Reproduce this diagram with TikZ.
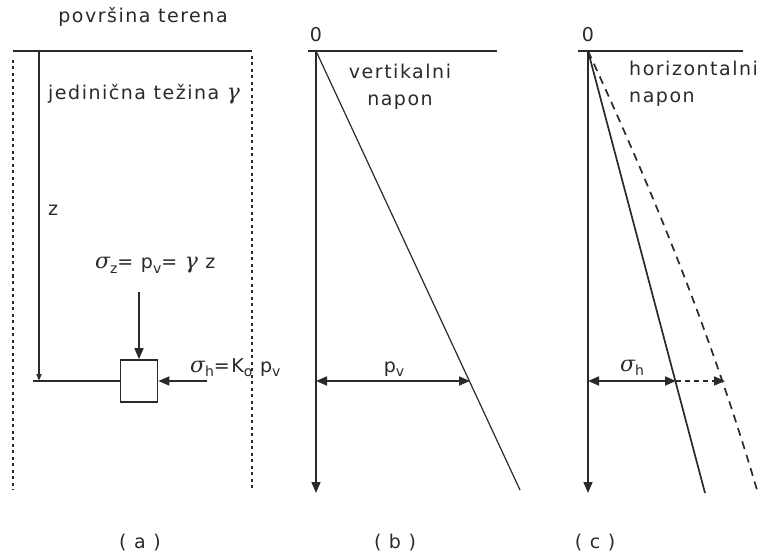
\documentclass[tikz,border=0pt]{standalone}
\usepackage{fontspec}
\setmainfont{DejaVu Sans}[LetterSpace=8]
\newfontfamily\grk{DejaVu Serif}[Scale=1.15]
\newcommand{\grsig}{{\grk\itshape σ}}
\newcommand{\grgam}{{\grk\itshape γ}}
\newcommand{\sbs}[1]{\raisebox{-4.5pt}{\fontsize{14}{14}\selectfont #1}}
\usetikzlibrary{arrows.meta}
\definecolor{ink}{HTML}{2A2A2A}
\begin{document}
\begin{tikzpicture}[x=1pt,y=-1pt,
  lbl/.style={font=\fontsize{19}{27}\selectfont, text=ink, inner sep=0pt},
  ln/.style={draw=ink, line width=1.7pt},
  base/.style={draw=ink, line width=2.3pt},
  thinln/.style={draw=ink, line width=1.2pt},
  dotln/.style={draw=ink, line width=2.2pt, dash pattern=on 3pt off 3.5pt},
  dashln/.style={draw=ink, line width=1.7pt, dash pattern=on 8pt off 6pt},
  tip/.style={-{Triangle[length=11pt,width=9pt]}},
  smalltip/.style={-{Triangle[length=7pt,width=5pt]}},
  both/.style={{Triangle[length=11pt,width=9pt]}-{Triangle[length=11pt,width=9pt]}},
  elem/.style={draw=ink, line width=1.7pt, minimum width=37pt, minimum height=42pt, inner sep=0pt}
]
\useasboundingbox (0,0) rectangle (764,559);

% ---------- panel (a)
\node[lbl] (surf) at (143,17) {površina terena};
\coordinate (aL) at (13,51);
\coordinate (aR) at (252,51);
\draw[base] (aL) -- (aR);
\coordinate (dl1) at (13,60);  \coordinate (dl2) at (13,490);
\coordinate (dr1) at (252,56); \coordinate (dr2) at (252,490);
\draw[dotln] (dl1) -- (dl2);
\draw[dotln] (dr1) -- (dr2);
\coordinate (z0) at (39,51);
\coordinate (z1) at (39,381);
\draw[ln,smalltip] (z0) -- (z1);
\node[lbl,anchor=base west] (unitw) at (48,100) {jedinična težina \grgam};
\node[lbl] (zl) at (53,210) {z};
\node[elem] (el) at (139,381) {};
\coordinate (hl) at (33,381);
\draw[ln] (hl) -- (el.west);
\node[lbl,anchor=base west] (sz) at (95,269) {\grsig\sbs{z}= p\sbs{v}= \grgam{} z};
\coordinate (vt) at (139,292);
\draw[ln,tip] (vt) -- (el.north);
\coordinate (ht) at (207,381);
\draw[ln,tip] (ht) -- (el.east);
\node[lbl,anchor=base west] (sh) at (190,372) {\grsig\sbs{h}=K\sbs{o} p\sbs{v}};
\node[lbl] (la) at (140,543) {( a )};

% ---------- panel (b)
\node[lbl] (zb) at (316,35) {0};
\coordinate (bL) at (308,51);
\coordinate (bR) at (497,51);
\draw[base] (bL) -- (bR);
\coordinate (b0) at (316,51);
\coordinate (b1) at (316,493);
\draw[ln,tip] (b0) -- (b1);
\coordinate (bd) at (520,490);
\draw[thinln] (b0) -- (bd);
\node[lbl,align=center] (vn) at (400,87) {vertikalni\\napon};
\coordinate (pa) at (316,381);
\coordinate (pb) at (470,381);
\draw[ln,both] (pa) -- (pb);
\node[lbl,anchor=base] (pv) at (394,372) {p\sbs{v}};
\node[lbl] (lb) at (395,543) {( b )};

% ---------- panel (c)
\node[lbl] (zc) at (588,35) {0};
\coordinate (cL) at (578,51);
\coordinate (cR) at (743,51);
\draw[base] (cL) -- (cR);
\coordinate (c0) at (588,51);
\coordinate (c1) at (588,493);
\draw[ln,tip] (c0) -- (c1);
\coordinate (cs) at (705,493);
\draw[ln] (c0) -- (cs);
\coordinate (cd) at (757,490);
\draw[dashln] (c0) .. controls (650,185) and (710,330) .. (cd);
\node[lbl,anchor=west,align=left] (hn) at (629,84) {horizontalni\\napon};
\coordinate (ha) at (588,381);
\coordinate (hb) at (676,381);
\coordinate (hc) at (725,381);
\draw[ln,both] (ha) -- (hb);
\draw[dashln,dash pattern=on 5pt off 4pt,tip] (hb) -- (hc);
\node[lbl,anchor=base] (shc) at (632,371) {\grsig\sbs{h}};
\node[lbl] (lc) at (595,543) {( c )};
\end{tikzpicture}
\end{document}
